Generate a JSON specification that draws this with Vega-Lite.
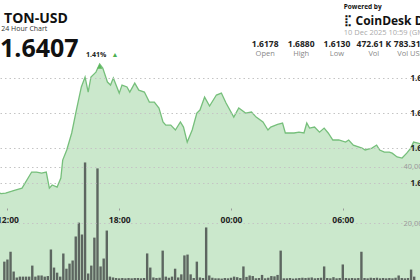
{
"$schema":"https://vega.github.io/schema/vega-lite/v6.json",
"width":420,"height":280,"padding":0,"autosize":{"type":"none"},
"background":"white",
"config":{"view":{"stroke":null},"font":"Open Sans"},
"datasets":{
"price":[
{"t":"2025-12-09T10:59:00Z","p":1.6178},{"t":"2025-12-09T11:20:00Z","p":1.6150},{"t":"2025-12-09T11:40:00Z","p":1.6140},{"t":"2025-12-09T11:54:00Z","p":1.6143},
{"t":"2025-12-09T12:25:00Z","p":1.6160},{"t":"2025-12-09T12:47:00Z","p":1.6171},{"t":"2025-12-09T13:18:00Z","p":1.6263},{"t":"2025-12-09T13:34:00Z","p":1.6263},
{"t":"2025-12-09T13:50:00Z","p":1.6257},{"t":"2025-12-09T14:05:00Z","p":1.6263},{"t":"2025-12-09T14:15:00Z","p":1.6171},{"t":"2025-12-09T14:24:00Z","p":1.6189},
{"t":"2025-12-09T14:40:00Z","p":1.6177},{"t":"2025-12-09T14:52:00Z","p":1.6229},{"t":"2025-12-09T14:58:00Z","p":1.6331},{"t":"2025-12-09T15:11:00Z","p":1.6389},
{"t":"2025-12-09T15:27:00Z","p":1.6486},{"t":"2025-12-09T15:42:00Z","p":1.6617},{"t":"2025-12-09T15:58:00Z","p":1.6749},{"t":"2025-12-09T16:10:00Z","p":1.6806},
{"t":"2025-12-09T16:20:00Z","p":1.6720},{"t":"2025-12-09T16:29:00Z","p":1.6806},{"t":"2025-12-09T16:45:00Z","p":1.6834},{"t":"2025-12-09T16:57:00Z","p":1.6880},
{"t":"2025-12-09T17:07:00Z","p":1.6857},{"t":"2025-12-09T17:22:00Z","p":1.6777},{"t":"2025-12-09T17:32:00Z","p":1.6760},{"t":"2025-12-09T17:41:00Z","p":1.6800},
{"t":"2025-12-09T18:00:00Z","p":1.6714},{"t":"2025-12-09T18:09:00Z","p":1.6760},{"t":"2025-12-09T18:25:00Z","p":1.6749},{"t":"2025-12-09T18:34:00Z","p":1.6720},
{"t":"2025-12-09T18:50:00Z","p":1.6771},{"t":"2025-12-09T19:03:00Z","p":1.6731},{"t":"2025-12-09T19:21:00Z","p":1.6720},{"t":"2025-12-09T19:37:00Z","p":1.6663},
{"t":"2025-12-09T19:53:00Z","p":1.6663},{"t":"2025-12-09T20:08:00Z","p":1.6629},{"t":"2025-12-09T20:21:00Z","p":1.6549},{"t":"2025-12-09T20:30:00Z","p":1.6531},
{"t":"2025-12-09T20:46:00Z","p":1.6531},{"t":"2025-12-09T21:01:00Z","p":1.6503},{"t":"2025-12-09T21:17:00Z","p":1.6549},{"t":"2025-12-09T21:27:00Z","p":1.6520},
{"t":"2025-12-09T21:39:00Z","p":1.6434},{"t":"2025-12-09T21:55:00Z","p":1.6503},{"t":"2025-12-09T22:10:00Z","p":1.6600},{"t":"2025-12-09T22:20:00Z","p":1.6617},
{"t":"2025-12-09T22:35:00Z","p":1.6691},{"t":"2025-12-09T22:51:00Z","p":1.6640},{"t":"2025-12-09T23:13:00Z","p":1.6703},{"t":"2025-12-09T23:29:00Z","p":1.6714},
{"t":"2025-12-09T23:44:00Z","p":1.6657},{"t":"2025-12-10T00:09:00Z","p":1.6577},{"t":"2025-12-10T00:25:00Z","p":1.6629},{"t":"2025-12-10T00:47:00Z","p":1.6600},
{"t":"2025-12-10T01:06:00Z","p":1.6606},{"t":"2025-12-10T01:21:00Z","p":1.6577},{"t":"2025-12-10T01:43:00Z","p":1.6549},{"t":"2025-12-10T01:59:00Z","p":1.6503},
{"t":"2025-12-10T02:08:00Z","p":1.6520},{"t":"2025-12-10T02:30:00Z","p":1.6535},{"t":"2025-12-10T02:46:00Z","p":1.6543},{"t":"2025-12-10T02:55:00Z","p":1.6486},
{"t":"2025-12-10T03:23:00Z","p":1.6486},{"t":"2025-12-10T03:39:00Z","p":1.6491},{"t":"2025-12-10T03:55:00Z","p":1.6486},{"t":"2025-12-10T04:04:00Z","p":1.6543},
{"t":"2025-12-10T04:13:00Z","p":1.6514},{"t":"2025-12-10T04:29:00Z","p":1.6520},{"t":"2025-12-10T04:45:00Z","p":1.6491},{"t":"2025-12-10T05:00:00Z","p":1.6514},
{"t":"2025-12-10T05:13:00Z","p":1.6486},{"t":"2025-12-10T05:28:00Z","p":1.6446},{"t":"2025-12-10T05:47:00Z","p":1.6446},{"t":"2025-12-10T06:09:00Z","p":1.6434},
{"t":"2025-12-10T06:19:00Z","p":1.6446},{"t":"2025-12-10T06:34:00Z","p":1.6417},{"t":"2025-12-10T07:02:00Z","p":1.6400},{"t":"2025-12-10T07:12:00Z","p":1.6389},
{"t":"2025-12-10T07:34:00Z","p":1.6400},{"t":"2025-12-10T07:49:00Z","p":1.6417},{"t":"2025-12-10T07:59:00Z","p":1.6389},{"t":"2025-12-10T08:14:00Z","p":1.6377},
{"t":"2025-12-10T08:30:00Z","p":1.6377},{"t":"2025-12-10T08:39:00Z","p":1.6371},{"t":"2025-12-10T08:55:00Z","p":1.6349},{"t":"2025-12-10T09:11:00Z","p":1.6343},
{"t":"2025-12-10T09:26:00Z","p":1.6371},{"t":"2025-12-10T09:39:00Z","p":1.6400},{"t":"2025-12-10T09:48:00Z","p":1.6434},{"t":"2025-12-10T10:20:00Z","p":1.6420},
{"t":"2025-12-10T10:59:00Z","p":1.6407}
],
"peak":[{"t":"2025-12-09T16:57:00Z","p":1.6866}],
"volume":[
{"t":"2025-12-09T11:50:00Z","v":6500},{"t":"2025-12-09T12:00:00Z","v":7250},{"t":"2025-12-09T12:10:00Z","v":10000},{"t":"2025-12-09T12:20:00Z","v":3000},
{"t":"2025-12-09T12:30:00Z","v":900},{"t":"2025-12-09T12:40:00Z","v":1200},{"t":"2025-12-09T12:50:00Z","v":1200},{"t":"2025-12-09T13:00:00Z","v":1200},
{"t":"2025-12-09T13:10:00Z","v":1200},{"t":"2025-12-09T13:20:00Z","v":5100},{"t":"2025-12-09T13:30:00Z","v":1200},{"t":"2025-12-09T13:40:00Z","v":1600},
{"t":"2025-12-09T13:50:00Z","v":1600},{"t":"2025-12-09T14:00:00Z","v":1200},{"t":"2025-12-09T14:10:00Z","v":1400},{"t":"2025-12-09T14:20:00Z","v":10800},
{"t":"2025-12-09T14:30:00Z","v":4400},{"t":"2025-12-09T14:40:00Z","v":2600},{"t":"2025-12-09T14:50:00Z","v":1200},{"t":"2025-12-09T15:00:00Z","v":9400},
{"t":"2025-12-09T15:10:00Z","v":4000},{"t":"2025-12-09T15:20:00Z","v":5800},{"t":"2025-12-09T15:30:00Z","v":6900},{"t":"2025-12-09T15:40:00Z","v":15400},
{"t":"2025-12-09T15:50:00Z","v":20300},{"t":"2025-12-09T16:00:00Z","v":16100},{"t":"2025-12-09T16:10:00Z","v":41600},{"t":"2025-12-09T16:20:00Z","v":2300},
{"t":"2025-12-09T16:30:00Z","v":5100},{"t":"2025-12-09T16:40:00Z","v":15000},{"t":"2025-12-09T16:50:00Z","v":39500},{"t":"2025-12-09T17:00:00Z","v":4800},
{"t":"2025-12-09T17:10:00Z","v":7600},{"t":"2025-12-09T17:20:00Z","v":17500},{"t":"2025-12-09T17:30:00Z","v":1200},{"t":"2025-12-09T17:40:00Z","v":900},
{"t":"2025-12-09T17:50:00Z","v":700},{"t":"2025-12-09T18:00:00Z","v":600},{"t":"2025-12-09T18:10:00Z","v":700},{"t":"2025-12-09T18:20:00Z","v":600},
{"t":"2025-12-09T18:30:00Z","v":700},{"t":"2025-12-09T18:40:00Z","v":600},{"t":"2025-12-09T18:50:00Z","v":700},{"t":"2025-12-09T19:00:00Z","v":700},
{"t":"2025-12-09T19:10:00Z","v":600},{"t":"2025-12-09T19:20:00Z","v":700},{"t":"2025-12-09T19:30:00Z","v":9400},{"t":"2025-12-09T19:40:00Z","v":4400},
{"t":"2025-12-09T19:50:00Z","v":900},{"t":"2025-12-09T20:00:00Z","v":700},{"t":"2025-12-09T20:10:00Z","v":800},{"t":"2025-12-09T20:20:00Z","v":10400},
{"t":"2025-12-09T20:30:00Z","v":1200},{"t":"2025-12-09T20:40:00Z","v":800},{"t":"2025-12-09T20:50:00Z","v":1200},{"t":"2025-12-09T21:00:00Z","v":4000},
{"t":"2025-12-09T21:10:00Z","v":900},{"t":"2025-12-09T21:20:00Z","v":2000},{"t":"2025-12-09T21:30:00Z","v":8700},{"t":"2025-12-09T21:40:00Z","v":9000},
{"t":"2025-12-09T21:50:00Z","v":2000},{"t":"2025-12-09T22:00:00Z","v":700},{"t":"2025-12-09T22:10:00Z","v":6500},{"t":"2025-12-09T22:20:00Z","v":900},
{"t":"2025-12-09T22:30:00Z","v":700},{"t":"2025-12-09T22:40:00Z","v":18600},{"t":"2025-12-09T22:50:00Z","v":1600},{"t":"2025-12-09T23:00:00Z","v":800},
{"t":"2025-12-09T23:10:00Z","v":600},{"t":"2025-12-09T23:20:00Z","v":600},{"t":"2025-12-09T23:30:00Z","v":500},{"t":"2025-12-09T23:40:00Z","v":700},
{"t":"2025-12-09T23:50:00Z","v":600},{"t":"2025-12-10T00:00:00Z","v":800},{"t":"2025-12-10T00:10:00Z","v":1200},{"t":"2025-12-10T00:20:00Z","v":1000},
{"t":"2025-12-10T00:30:00Z","v":700},{"t":"2025-12-10T00:40:00Z","v":4800},{"t":"2025-12-10T00:50:00Z","v":1100},{"t":"2025-12-10T01:00:00Z","v":1600},
{"t":"2025-12-10T01:10:00Z","v":1400},{"t":"2025-12-10T01:20:00Z","v":600},{"t":"2025-12-10T01:30:00Z","v":700},{"t":"2025-12-10T01:40:00Z","v":1800},
{"t":"2025-12-10T01:50:00Z","v":600},{"t":"2025-12-10T02:00:00Z","v":800},{"t":"2025-12-10T02:10:00Z","v":1400},{"t":"2025-12-10T02:20:00Z","v":1300},
{"t":"2025-12-10T02:30:00Z","v":1800},{"t":"2025-12-10T02:40:00Z","v":10400},{"t":"2025-12-10T02:50:00Z","v":600},{"t":"2025-12-10T03:00:00Z","v":600},
{"t":"2025-12-10T03:10:00Z","v":700},{"t":"2025-12-10T03:20:00Z","v":500},{"t":"2025-12-10T03:30:00Z","v":600},{"t":"2025-12-10T03:40:00Z","v":700},
{"t":"2025-12-10T03:50:00Z","v":800},{"t":"2025-12-10T04:00:00Z","v":700},{"t":"2025-12-10T04:10:00Z","v":800},{"t":"2025-12-10T04:20:00Z","v":900},
{"t":"2025-12-10T04:30:00Z","v":600},{"t":"2025-12-10T04:40:00Z","v":700},{"t":"2025-12-10T04:50:00Z","v":800},{"t":"2025-12-10T05:00:00Z","v":4800},
{"t":"2025-12-10T05:10:00Z","v":700},{"t":"2025-12-10T05:20:00Z","v":600},{"t":"2025-12-10T05:30:00Z","v":1000},{"t":"2025-12-10T05:40:00Z","v":600},
{"t":"2025-12-10T05:50:00Z","v":700},{"t":"2025-12-10T06:00:00Z","v":5500},{"t":"2025-12-10T06:10:00Z","v":700},{"t":"2025-12-10T06:20:00Z","v":600},
{"t":"2025-12-10T06:30:00Z","v":700},{"t":"2025-12-10T06:40:00Z","v":600},{"t":"2025-12-10T06:50:00Z","v":700},{"t":"2025-12-10T07:00:00Z","v":10000},
{"t":"2025-12-10T07:10:00Z","v":700},{"t":"2025-12-10T07:20:00Z","v":600},{"t":"2025-12-10T07:30:00Z","v":800},{"t":"2025-12-10T07:40:00Z","v":700},
{"t":"2025-12-10T07:50:00Z","v":800},{"t":"2025-12-10T08:00:00Z","v":600},{"t":"2025-12-10T08:10:00Z","v":700},{"t":"2025-12-10T08:20:00Z","v":600},
{"t":"2025-12-10T08:30:00Z","v":700},{"t":"2025-12-10T08:40:00Z","v":600},{"t":"2025-12-10T08:50:00Z","v":800},{"t":"2025-12-10T09:00:00Z","v":1600},
{"t":"2025-12-10T09:10:00Z","v":700},{"t":"2025-12-10T09:20:00Z","v":600},{"t":"2025-12-10T09:30:00Z","v":700},{"t":"2025-12-10T09:40:00Z","v":3700},
{"t":"2025-12-10T09:50:00Z","v":1200}
],
"header":[
{"item":"symbol","text":"TON-USD","t":"2025-12-09T11:49:00Z"},
{"item":"period","text":"24 Hour Chart","t":"2025-12-09T11:40:00Z"},
{"item":"last","text":"1.6407","t":"2025-12-09T11:36:00Z"},
{"item":"change","text":"1.41%","t":"2025-12-09T16:13:00Z"},
{"item":"arrow","text":"▲","t":"2025-12-09T17:46:00Z"},
{"item":"powered","text":"Powered by","t":"2025-12-10T06:03:00Z"},
{"item":"logo","text":"⣏","t":"2025-12-10T06:03:00Z"},
{"item":"brand","text":"CoinDesk Data","t":"2025-12-10T06:41:00Z"},
{"item":"stamp","text":"10 Dec 2025 10:59 (GMT)","t":"2025-12-10T06:03:00Z"}
],
"stats":[
{"stat":"Open","value":"1.6178","t":"2025-12-10T01:50:00Z"},
{"stat":"High","value":"1.6880","t":"2025-12-10T03:46:00Z"},
{"stat":"Low","value":"1.6130","t":"2025-12-10T05:41:00Z"},
{"stat":"Vol","value":"472.61 K","t":"2025-12-10T07:40:00Z"},
{"stat":"Vol USD","value":"783.31 K","t":"2025-12-10T09:40:00Z"}
]
},
"encoding":{
"x":{"field":"t","type":"temporal","scale":{"type":"utc","domain":[1765281128000,1765360356000]},
"axis":{"orient":"bottom","offset":-72,"zindex":2,"title":null,"format":"%H:%M","values":[1765281600000,1765303200000,1765324800000,1765346400000],"domain":false,"ticks":true,"tickSize":2,"tickColor":"#999999","labelPadding":5,"labelFontSize":8.5,"labelFontWeight":"bold","labelColor":"#222222","grid":false}}
},
"layer":[
{
"data":{"name":"price"},
"encoding":{
"y":{"field":"p","type":"quantitative","scale":{"domain":[1.5646,1.7246],"nice":false,"zero":false},
"axis":{"orient":"right","offset":-10,"zindex":2,"title":null,"values":[1.62,1.64,1.66,1.68],"format":".2f","domain":false,"ticks":false,"labelAlign":"left","labelPadding":0,"labelFontSize":8,"labelFontWeight":"bold","labelColor":"#222222","grid":true,"gridDash":[1.5,3],"gridColor":"#c4c4c4"}}
},
"layer":[
{"mark":{"type":"area","clip":true,"color":"#cbe8cc"}},
{"mark":{"type":"line","clip":true,"color":"#76bf7b","strokeWidth":1.3}},
{"data":{"name":"peak"},"mark":{"type":"point","shape":"triangle-up","filled":true,"size":30,"color":"#5cb85c","opacity":1}}
]
},
{
"data":{"name":"volume"},
"mark":{"type":"bar","width":2.4,"color":"#5d6660","clip":true},
"encoding":{
"y":{"field":"v","type":"quantitative","scale":{"domain":[0,99100],"nice":false},
"axis":{"orient":"right","offset":-17,"zindex":2,"title":null,"values":[20000,40000],"format":",d","domain":false,"ticks":false,"labelAlign":"left","labelPadding":0,"labelFontSize":7.5,"labelColor":"#9a9a9a","grid":true,"gridDash":[1.5,3],"gridColor":"#c4c4c4"}}
}
},
{
"data":{"name":"header"},
"layer":[
{"transform":[{"filter":"datum.item === 'symbol'"}],"mark":{"type":"text","align":"left","baseline":"alphabetic","fontSize":14,"fontWeight":"bold","color":"#111111"},
"encoding":{"y":{"datum":1.7114,"type":"quantitative","scale":{"domain":[1.5646,1.7246],"nice":false,"zero":false},"axis":null},"text":{"field":"text"}}},
{"transform":[{"filter":"datum.item === 'period'"}],"mark":{"type":"text","align":"left","baseline":"alphabetic","fontSize":7,"color":"#333333"},
"encoding":{"y":{"datum":1.7071,"type":"quantitative"},"text":{"field":"text"}}},
{"transform":[{"filter":"datum.item === 'last'"}],"mark":{"type":"text","align":"left","baseline":"alphabetic","fontSize":25,"fontWeight":"bold","color":"#111111"},
"encoding":{"y":{"datum":1.692,"type":"quantitative"},"text":{"field":"text"}}},
{"transform":[{"filter":"datum.item === 'change'"}],"mark":{"type":"text","align":"left","baseline":"middle","fontSize":7,"fontWeight":"bold","color":"#222222"},
"encoding":{"y":{"datum":1.6931,"type":"quantitative"},"text":{"field":"text"}}},
{"transform":[{"filter":"datum.item === 'arrow'"}],"mark":{"type":"text","align":"center","baseline":"middle","fontSize":7,"color":"#4caf50"},
"encoding":{"y":{"datum":1.6931,"type":"quantitative"},"text":{"field":"text"}}},
{"transform":[{"filter":"datum.item === 'powered'"}],"mark":{"type":"text","align":"left","baseline":"middle","fontSize":6.5,"fontWeight":"bold","color":"#111111"},
"encoding":{"y":{"datum":1.7206,"type":"quantitative"},"text":{"field":"text"}}},
{"transform":[{"filter":"datum.item === 'logo'"}],"mark":{"type":"text","align":"left","baseline":"middle","fontSize":11,"fontWeight":"bold","color":"#111111"},
"encoding":{"y":{"datum":1.7126,"type":"quantitative"},"text":{"field":"text"}}},
{"transform":[{"filter":"datum.item === 'brand'"}],"mark":{"type":"text","align":"left","baseline":"middle","fontSize":12,"fontWeight":"bold","color":"#111111"},
"encoding":{"y":{"datum":1.7126,"type":"quantitative"},"text":{"field":"text"}}},
{"transform":[{"filter":"datum.item === 'stamp'"}],"mark":{"type":"text","align":"left","baseline":"middle","fontSize":7.5,"color":"#aaaaaa"},
"encoding":{"y":{"datum":1.7057,"type":"quantitative"},"text":{"field":"text"}}}
]
},
{
"data":{"name":"stats"},
"layer":[
{"mark":{"type":"text","align":"center","baseline":"middle","fontSize":8.5,"fontWeight":"bold","color":"#222222"},
"encoding":{"y":{"datum":1.6994,"type":"quantitative","scale":{"domain":[1.5646,1.7246],"nice":false,"zero":false},"axis":null},"text":{"field":"value"}}},
{"mark":{"type":"text","align":"center","baseline":"middle","fontSize":7.5,"color":"#888888"},
"encoding":{"y":{"datum":1.694,"type":"quantitative"},"text":{"field":"stat"}}}
]
}
],
"resolve":{"scale":{"y":"independent"}}
}
